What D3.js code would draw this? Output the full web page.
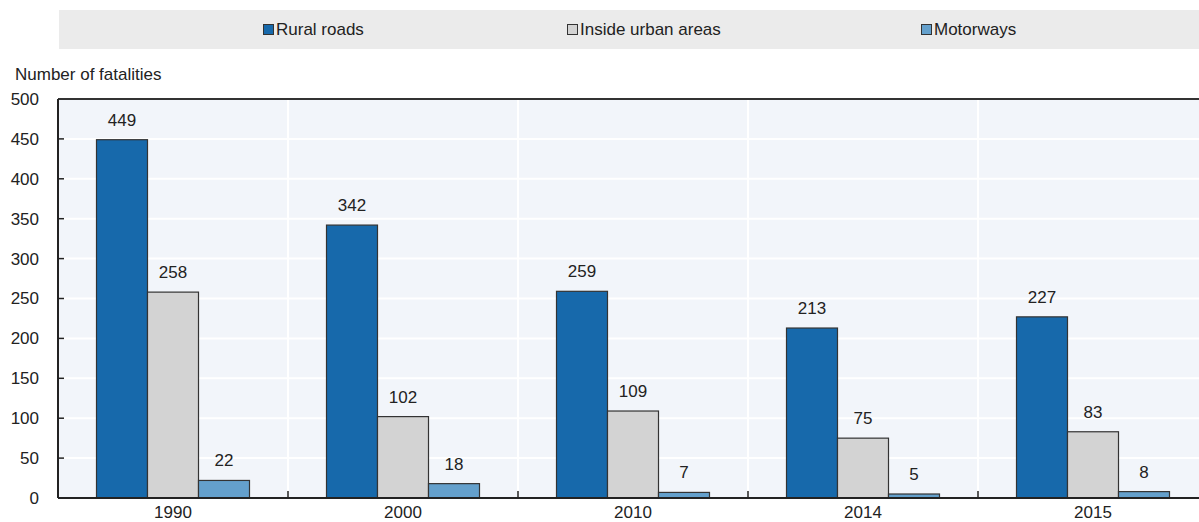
<!DOCTYPE html>
<html><head><meta charset="utf-8">
<script src="https://cdn.jsdelivr.net/npm/d3@7"></script>
<style>
body{margin:0;background:#fff;}
svg text{font-family:"Liberation Sans Narrow","Arial Narrow","Liberation Sans",Arial,sans-serif;fill:#222;}
</style></head>
<body><svg id="c" width="1199" height="522"></svg>
<script>
const years = ["1990","2000","2010","2014","2015"];
const seriesNames = ["Rural roads","Inside urban areas","Motorways"];
const rural = [449,342,259,213,227];
const urban = [258,102,109,75,83];
const motorways = [22,18,7,5,8];
const yTicks = [0,50,100,150,200,250,300,350,400,450,500];
const colors = ["#1769ab","#d3d3d3","#64a0cc"];
const seriesVals = [rural, urban, motorways];

(function(){
const svg = d3.select("#c");
const pL = 58, pR = 1208, pT = 99, pB = 498;
const x = d3.scaleBand().domain(years).range([pL, pR]).padding(0);
const y = d3.scaleLinear().domain([0,500]).range([pB, pT]);
const inner = d3.scaleBand().domain(seriesNames).range([0,153]);
const ff = '"Liberation Sans Narrow","Arial Narrow",sans-serif';

svg.append("rect").attr("x",pL).attr("y",pT).attr("width",1199-pL).attr("height",pB-pT).attr("fill","#f2f5fa");
svg.append("g").selectAll("line").data(yTicks.filter(d=>d>0&&d<500)).join("line")
  .attr("x1",pL).attr("x2",1199).attr("y1",d=>y(d)).attr("y2",d=>y(d)).attr("stroke","#fff").attr("stroke-width",2);
svg.append("g").selectAll("line").data(years.slice(1)).join("line")
  .attr("x1",d=>x(d)).attr("x2",d=>x(d)).attr("y1",pT).attr("y2",pB).attr("stroke","#fff").attr("stroke-width",2);

svg.append("rect").attr("x",59).attr("y",10).attr("width",1140).attr("height",39).attr("fill","#ebebeb");
const legX = [263,567,921];
const lg = svg.append("g").selectAll("g").data(seriesNames).join("g").attr("transform",(d,i)=>`translate(${legX[i]},24)`);
lg.append("rect").attr("x",0.5).attr("y",0.5).attr("width",10).attr("height",10).attr("fill",(d,i)=>colors[i]).attr("stroke","#333").attr("stroke-width",1);
lg.append("text").attr("x",13).attr("y",11).attr("font-size",17).text(d=>d);

years.forEach((yr,j)=>{
  seriesNames.forEach((s,i)=>{
    const v = seriesVals[i][j];
    const bx = x(yr) + x.bandwidth()/2 - 76.5 + inner(s);
    svg.append("rect").attr("x",bx).attr("y",y(v)).attr("width",inner.bandwidth()).attr("height",pB-y(v))
      .attr("fill",colors[i]).attr("stroke","#333").attr("stroke-width",1.2);
    svg.append("text").attr("x",bx+inner.bandwidth()/2).attr("y",y(v)-14).attr("text-anchor","middle").attr("font-size",17).text(v);
  });
});

const ya = svg.append("g").attr("transform",`translate(${pL},0)`).call(d3.axisLeft(y).tickValues(yTicks).tickSize(0).tickPadding(19));
ya.select(".domain").remove();
ya.selectAll("text").attr("font-size",17).attr("fill","#222").style("font-family",ff);
svg.append("g").selectAll("line").data(yTicks).join("line").attr("x1",pL).attr("x2",pL+6).attr("y1",d=>y(d)).attr("y2",d=>y(d)).attr("stroke","#222").attr("stroke-width",1.5);

const xa = svg.append("g").attr("transform",`translate(0,${pB})`).call(d3.axisBottom(x).tickSize(0).tickPadding(7));
xa.select(".domain").remove();
xa.selectAll("text").attr("font-size",17).attr("fill","#222").attr("dy","0.75em").style("font-family",ff);
svg.append("g").selectAll("line").data(years.slice(1)).join("line").attr("x1",d=>x(d)).attr("x2",d=>x(d)).attr("y1",pB).attr("y2",pB-7).attr("stroke","#222").attr("stroke-width",1.5);

svg.append("line").attr("x1",pL).attr("x2",1199).attr("y1",pT).attr("y2",pT).attr("stroke","#333").attr("stroke-width",2);
svg.append("line").attr("x1",pL).attr("x2",1199).attr("y1",pB).attr("y2",pB).attr("stroke","#222").attr("stroke-width",2);
svg.append("line").attr("x1",pL).attr("x2",pL).attr("y1",pT).attr("y2",pB).attr("stroke","#222").attr("stroke-width",2);

svg.append("text").attr("x",15).attr("y",80).attr("font-size",17).text("Number of fatalities");
})();
</script></body></html>
